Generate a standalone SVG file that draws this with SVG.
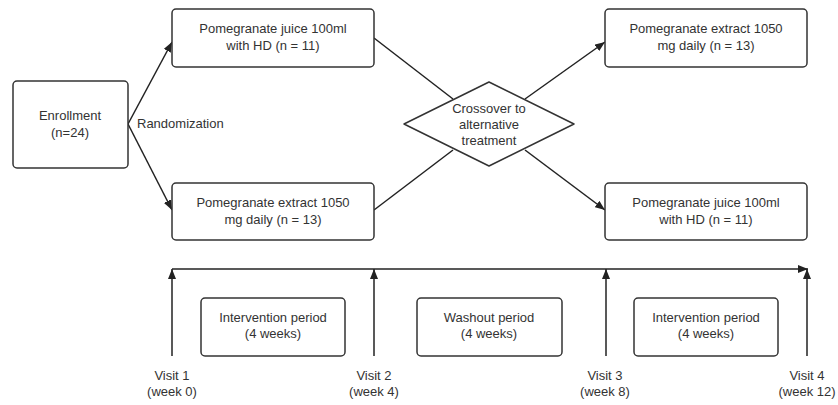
<svg xmlns="http://www.w3.org/2000/svg" width="838" height="405" viewBox="0 0 838 405">
<defs>
<marker id="ah" viewBox="0 0 10 8" refX="10" refY="4" markerWidth="10" markerHeight="8" markerUnits="userSpaceOnUse" orient="auto">
<path d="M0,0 L10,4 L0,8 Z" fill="#222"/>
</marker>
<style>
.box{fill:#fff;stroke:#333;stroke-width:1.5}
.t{font-family:"Liberation Sans",Arial,sans-serif;font-size:13px;fill:#333;text-anchor:middle}
.ln{fill:none;stroke:#222;stroke-width:1.5}
.ar{fill:none;stroke:#222;stroke-width:1.5;marker-end:url(#ah)}
</style>
</defs>
<rect width="838" height="405" fill="#fff"/>
<g id="connectors">
<line class="ar" x1="128" y1="124" x2="172" y2="42"/>
<line class="ar" x1="128" y1="124" x2="172" y2="210"/>
<line class="ln" x1="374" y1="38" x2="453" y2="99"/>
<line class="ln" x1="374" y1="210" x2="453" y2="150"/>
<line class="ar" x1="525" y1="99" x2="605" y2="42"/>
<line class="ar" x1="525" y1="150" x2="605" y2="210"/>
<line class="ar" x1="172" y1="269" x2="808" y2="269"/>
<line class="ar" x1="172" y1="356" x2="172" y2="269"/>
<line class="ar" x1="374" y1="356" x2="374" y2="269"/>
<line class="ar" x1="606" y1="356" x2="606" y2="269"/>
<line class="ar" x1="807" y1="356" x2="807" y2="269"/>
<text class="t" x="137" y="128" style="text-anchor:start">Randomization</text>
</g>
<g id="enrollment">
<rect class="box" x="13" y="81" width="115" height="87" rx="4"/>
<text class="t" x="70" y="120">Enrollment</text>
<text class="t" x="70" y="137">(n=24)</text>
</g>
<g id="juice1">
<rect class="box" x="172" y="9" width="202" height="58" rx="4"/>
<text class="t" x="273" y="33">Pomegranate juice 100ml</text>
<text class="t" x="273" y="50">with HD (n = 11)</text>
</g>
<g id="extract1">
<rect class="box" x="172" y="183" width="202" height="57" rx="4"/>
<text class="t" x="273" y="207">Pomegranate extract 1050</text>
<text class="t" x="273" y="224">mg daily (n = 13)</text>
</g>
<g id="crossover">
<polygon class="box" points="404,124 489,82 574,124 489,166" stroke-linejoin="round"/>
<text class="t" x="489" y="113">Crossover to</text>
<text class="t" x="489" y="129">alternative</text>
<text class="t" x="489" y="145">treatment</text>
</g>
<g id="extract2">
<rect class="box" x="605" y="9" width="202" height="58" rx="4"/>
<text class="t" x="706" y="33">Pomegranate extract 1050</text>
<text class="t" x="706" y="50">mg daily (n = 13)</text>
</g>
<g id="juice2">
<rect class="box" x="605" y="183" width="202" height="57" rx="4"/>
<text class="t" x="706" y="207">Pomegranate juice 100ml</text>
<text class="t" x="706" y="224">with HD (n = 11)</text>
</g>
<g id="period1">
<rect class="box" x="201" y="298" width="144" height="58" rx="4"/>
<text class="t" x="273" y="322">Intervention period</text>
<text class="t" x="273" y="338">(4 weeks)</text>
</g>
<g id="washout">
<rect class="box" x="417" y="298" width="145" height="58" rx="4"/>
<text class="t" x="489" y="322">Washout period</text>
<text class="t" x="489" y="338">(4 weeks)</text>
</g>
<g id="period2">
<rect class="box" x="634" y="298" width="144" height="58" rx="4"/>
<text class="t" x="706" y="322">Intervention period</text>
<text class="t" x="706" y="338">(4 weeks)</text>
</g>
<g id="visit1"><text class="t" x="172" y="380">Visit 1</text><text class="t" x="172" y="396">(week 0)</text></g>
<g id="visit2"><text class="t" x="374" y="380">Visit 2</text><text class="t" x="374" y="396">(week 4)</text></g>
<g id="visit3"><text class="t" x="605" y="380">Visit 3</text><text class="t" x="605" y="396">(week 8)</text></g>
<g id="visit4"><text class="t" x="807" y="380">Visit 4</text><text class="t" x="807" y="396">(week 12)</text></g>
</svg>
